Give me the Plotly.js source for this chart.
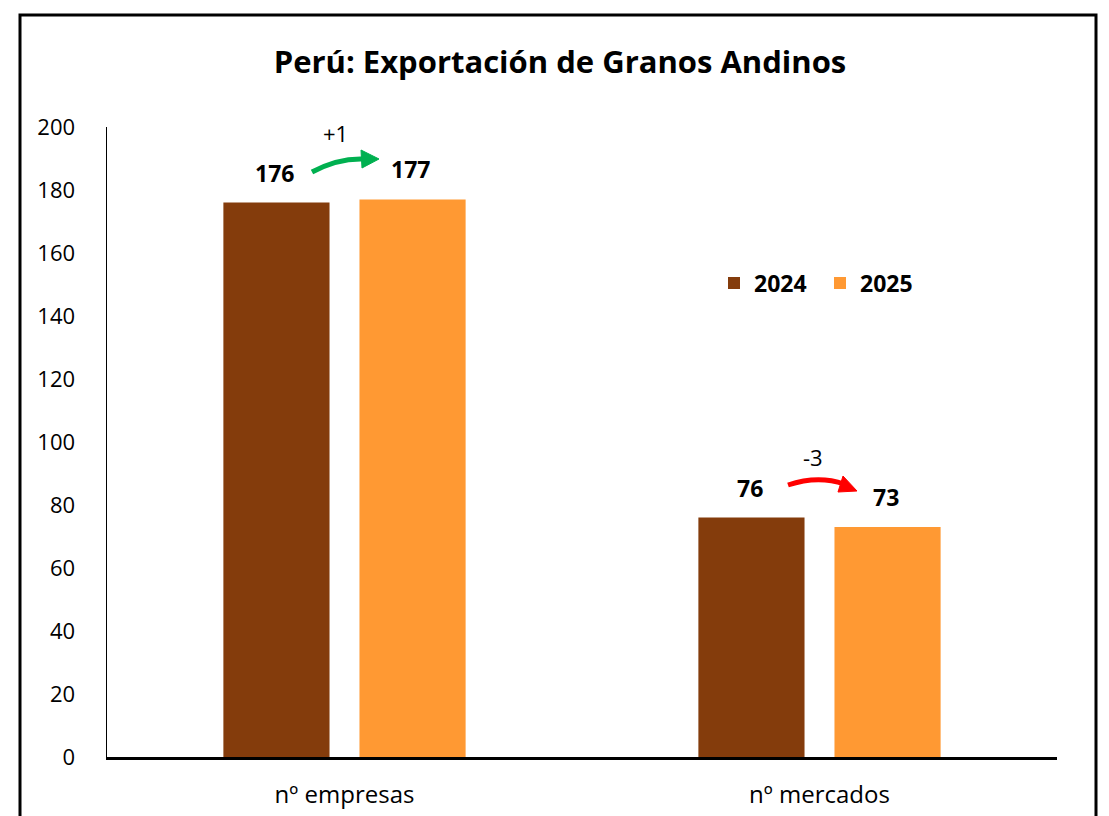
<!DOCTYPE html>
<html>
<head>
<meta charset="utf-8">
<script src="https://cdn.plot.ly/plotly-3.0.1.min.js"></script>
<style>html,body{margin:0;padding:0;background:#fff;}#chart{width:1109px;height:816px;}</style>
</head>
<body>
<div id="chart"></div>
<script>
// ---- data ----
const categories = ["nº empresas", "nº mercados"];
const years = ["2024", "2025"];
const values2024 = [176, 76];
const values2025 = [177, 73];
const changes = ["+1", "-3"];
const yTicks = [0, 20, 40, 60, 80, 100, 120, 140, 160, 180, 200];

// ---- layout geometry helpers (pixels -> paper) ----
const W = 1109, H = 816, ML = 107, MR = 52, MT = 127, MB = 59;
const PW = W - ML - MR, PH = H - MT - MB;
const px = x => (x - ML) / PW;
const py = y => (H - MB - y) / PH;
function path(pts) {
  return pts.map(p => p[0] + p.slice(1).map((v, i) => (i % 2 === 0 ? px(v) : py(v)).toFixed(5)).join(',')).join(' ');
}

const FONT = "'Open Sans', Lato, sans-serif";
const c2024 = "#843C0C", c2025 = "#FF9933";

const traces = [
  {type: "bar", name: years[0], x: categories, y: values2024, marker: {color: c2024}, hoverinfo: "none"},
  {type: "bar", name: years[1], x: categories, y: values2025, marker: {color: c2025}, hoverinfo: "none"}
];

const annotations = [];
categories.forEach((c, i) => {
  annotations.push({x: c, y: values2024[i], xref: "x", yref: "y", text: "<b>" + values2024[i] + "</b>",
    showarrow: false, xshift: -70, yshift: 30, xanchor: "center", yanchor: "middle",
    font: {size: 23, color: "#000", family: FONT}});
  annotations.push({x: c, y: values2025[i], xref: "x", yref: "y", text: "<b>" + values2025[i] + "</b>",
    showarrow: false, xshift: 66, yshift: 30, xanchor: "center", yanchor: "middle",
    font: {size: 23, color: "#000", family: FONT}});
});
annotations.push({x: px(335), y: py(133), xref: "paper", yref: "paper", text: changes[0], showarrow: false,
  xanchor: "center", yanchor: "middle", font: {size: 22, color: "#000", family: FONT}});
annotations.push({x: px(813), y: py(457), xref: "paper", yref: "paper", text: changes[1], showarrow: false,
  xanchor: "center", yanchor: "middle", font: {size: 22, color: "#000", family: FONT}});

const green = "#00B050", red = "#FF0000";
const shapes = [
  {type: "rect", xref: "paper", yref: "paper", x0: px(20), x1: px(1096), y0: py(15), y1: py(840),
   line: {color: "#000", width: 3}, fillcolor: "rgba(0,0,0,0)", layer: "above"},
  {type: "path", xref: "paper", yref: "paper", path: path([["M", 312, 172], ["Q", 338, 158, 364, 159]]),
   line: {color: green, width: 5}},
  {type: "path", xref: "paper", yref: "paper", path: path([["M", 361, 150], ["L", 379, 159], ["L", 362, 168]]) + " Z",
   line: {color: green, width: 1}, fillcolor: green},
  {type: "path", xref: "paper", yref: "paper", path: path([["M", 788, 485], ["Q", 818, 475, 844, 484]]),
   line: {color: red, width: 5}},
  {type: "path", xref: "paper", yref: "paper", path: path([["M", 843, 476], ["L", 857, 491], ["L", 838, 492]]) + " Z",
   line: {color: red, width: 1}, fillcolor: red}
];

const layout = {
  width: W, height: H,
  margin: {l: ML, r: MR, t: MT, b: MB, pad: 0},
  paper_bgcolor: "#fff", plot_bgcolor: "#fff",
  font: {family: FONT, color: "#000", size: 22},
  title: {text: "<b>Perú: Exportación de Granos Andinos</b>", x: 560 / W, xanchor: "center",
    y: 1 - 62 / H, yanchor: "middle", yref: "container", font: {size: 31, family: FONT, color: "#000"}},
  barmode: "group", bargap: 0.427, bargroupgap: 0.22,
  xaxis: {type: "category", showline: true, linecolor: "#000", linewidth: 2.5, ticks: "", showgrid: false,
    zeroline: false, tickfont: {size: 24, family: FONT}, ticklabelstandoff: 15, fixedrange: true},
  yaxis: {range: [0, 200], tickvals: yTicks, ticktext: yTicks.map(String), showline: true, linecolor: "#000",
    linewidth: 1.5, ticks: "", showgrid: false, zeroline: false, tickfont: {size: 22, family: FONT},
    ticklabelstandoff: 26, fixedrange: true},
  legend: {orientation: "h", x: px(714), y: py(283), xanchor: "left", yanchor: "middle",
    font: {size: 23, family: FONT, color: "#000", weight: "bold"}, bgcolor: "rgba(0,0,0,0)", itemwidth: 30,
    entrywidth: 61, entrywidthmode: "pixels", traceorder: "normal"},
  showlegend: true,
  annotations: annotations,
  shapes: shapes
};

Plotly.newPlot("chart", traces, layout, {displayModeBar: false, staticPlot: true});
</script>
</body>
</html>
